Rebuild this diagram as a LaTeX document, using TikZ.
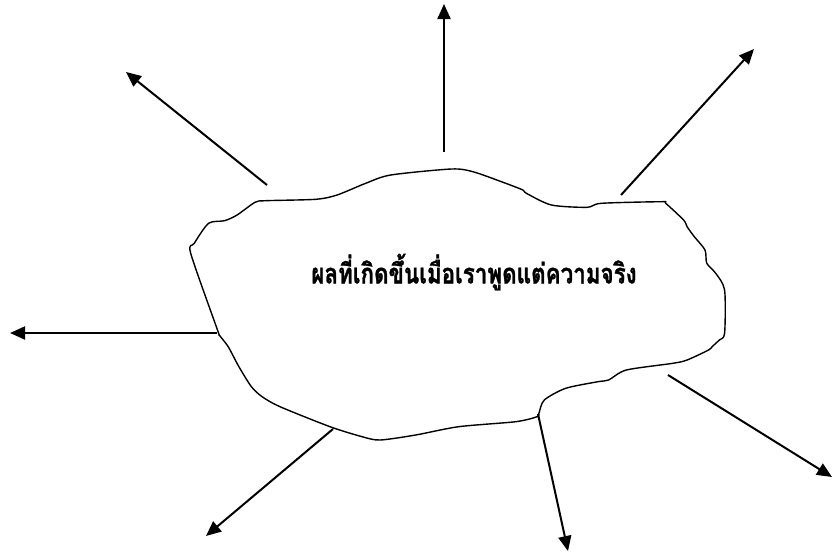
\documentclass[tikz,border=0pt]{standalone}
\usepackage{fontspec}
\newfontfamily\thaifont[Script=Thai,BoldFeatures={FakeBold=1.2}]{Loma}
\usetikzlibrary{arrows.meta}
\begin{document}
\begin{tikzpicture}[x=1pt,y=-1pt,
  cloudline/.style={line width=1.4pt,line join=round},
  ray/.style={line width=2pt,-{Triangle[length=15pt,width=13pt]}},
  title/.style={font=\thaifont\bfseries\fontsize{28}{32}\selectfont,inner sep=0pt}]
\useasboundingbox (0,0) rectangle (833,557);
\draw[cloudline] plot[smooth cycle,tension=0.45] coordinates {
(208.6,223.3) (224.6,220.7) (237.1,215) (255,202.3) (265.7,200.7) (315.7,199.3)
(337.1,195) (365.7,183.3) (390.7,175) (451.4,169) (472.9,171.7) (501.4,181.7)
(522.9,190) (526.4,193.3) (551.4,205) (587.1,207.3) (601.4,203.3) (662.1,201.7)
(665.7,203.3) (683.6,220) (687.1,226.7) (694.3,236.7) (705,250) (706.8,263.3)
(715.7,273.3) (724.6,290) (724.6,333.3) (719.3,340) (712.1,346.7) (708.6,350)
(687.1,360) (672.9,363.3) (626.4,370) (608.6,380) (597.9,381.7) (565.7,388.3)
(544.3,400) (538.9,413.3) (537.1,416.7) (515.7,421.7) (458.6,426.7) (415.7,435)
(380,440) (362.1,436.7) (330,426.7) (280,406.7) (262.1,396.7) (251.4,386.7)
(238.9,366.7) (228.2,346.7) (219.3,335) (217.5,330) (190.7,253.3) (194.3,243.3)};
\node[title] (t) at (474,272) {\scalebox{0.8}[1]{ผลที่เกิดขึ้นเมื่อเราพูดแต่ความจริง}};
\coordinate (s1) at (267,185); \coordinate (e1) at (126,72);
\coordinate (s2) at (444,152); \coordinate (e2) at (444,4);
\coordinate (s3) at (621,195); \coordinate (e3) at (754,49);
\coordinate (s4) at (217,333); \coordinate (e4) at (10,333);
\coordinate (s5) at (668,375); \coordinate (e5) at (832,477);
\coordinate (s6) at (538,414); \coordinate (e6) at (568,551);
\coordinate (s7) at (333,429); \coordinate (e7) at (206,536);
\foreach \i in {1,...,7} \draw[ray] (s\i) -- (e\i);
\end{tikzpicture}
\end{document}
